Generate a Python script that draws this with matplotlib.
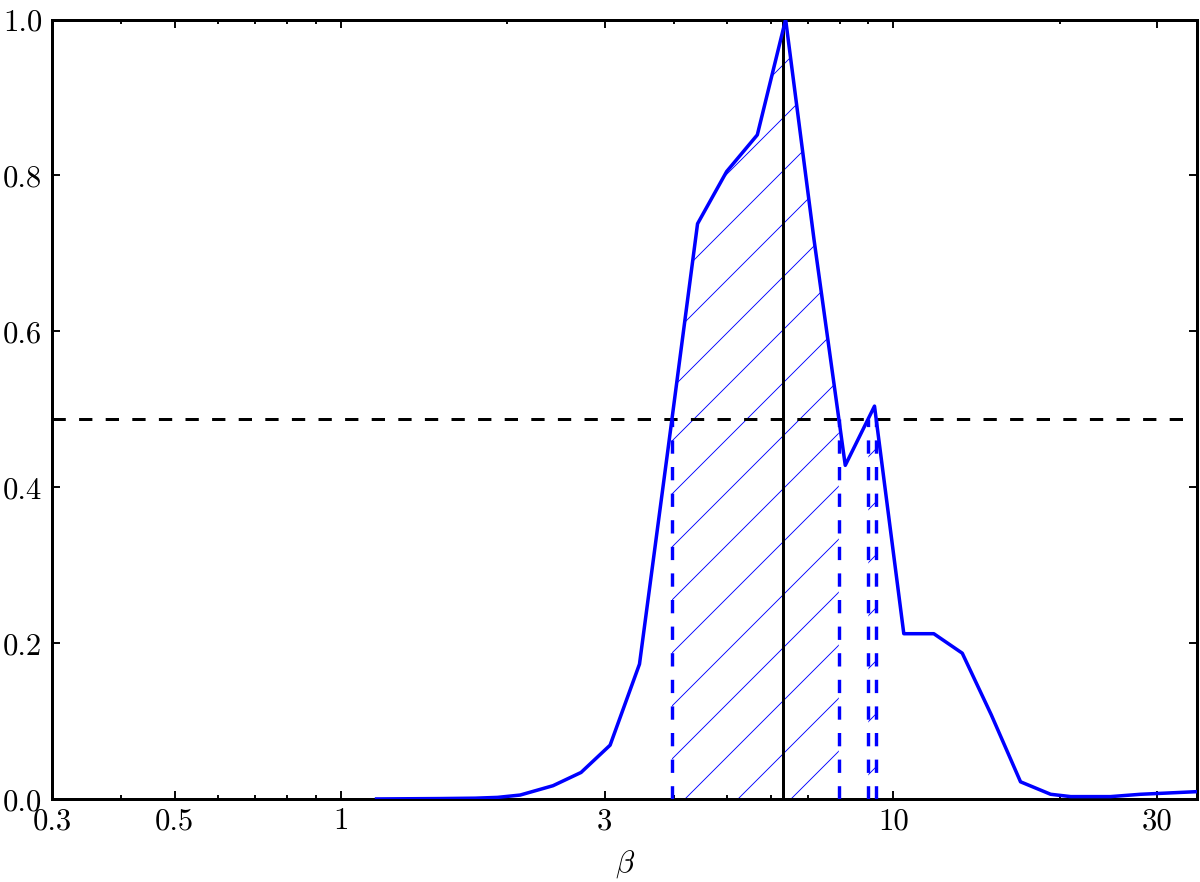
import numpy as np
import matplotlib
matplotlib.use("Agg")
import matplotlib.pyplot as plt
from matplotlib.ticker import LogLocator, NullFormatter

# ---------------- data ----------------
beta = [1.16, 1.51, 1.75, 1.92, 2.11, 2.42, 2.72, 3.07, 3.47, 3.91, 4.42, 4.99,
        5.67, 6.38, 7.18, 8.18, 9.24, 10.44, 11.83, 13.32, 15.03, 16.98, 19.25,
        20.93, 24.7, 28.0, 35.5]
prob = [0.000, 0.0005, 0.001, 0.002, 0.005, 0.017, 0.034, 0.069, 0.173, 0.45,
        0.738, 0.805, 0.852, 1.000, 0.718, 0.428, 0.504, 0.212, 0.212, 0.187,
        0.108, 0.022, 0.006, 0.003, 0.003, 0.006, 0.0094]
threshold = 0.488
beta_best = 6.31
xtick_values = [0.3, 0.5, 1, 3, 10, 30]
xtick_labels = ['0.3', '0.5', '1', '3', '10', '30']
ytick_values = [0.0, 0.2, 0.4, 0.6, 0.8, 1.0]
ytick_labels = ['0.0', '0.2', '0.4', '0.6', '0.8', '1.0']
xlim = (0.3, 35.5)
ylim = (0.0, 1.0)

# ---------------- style ----------------
DPI = 318


def px(v):
    """convert a size in output pixels to points"""
    return v * 72.0 / DPI


plt.rcParams.update({
    'font.family': 'serif',
    'font.serif': ['cmr10'],
    'mathtext.fontset': 'cm',
    'axes.formatter.use_mathtext': True,
    'font.size': px(30.8),
    'xtick.direction': 'in',
    'ytick.direction': 'in',
    'xtick.top': True,
    'ytick.right': True,
    'xtick.major.size': px(8),
    'xtick.minor.size': px(4),
    'ytick.major.size': px(8),
    'ytick.minor.size': px(4),
    'xtick.major.width': px(1.9),
    'xtick.minor.width': px(1.9),
    'ytick.major.width': px(1.9),
    'xtick.major.pad': px(8.3),
    'ytick.major.pad': px(9.6),
    'axes.linewidth': px(3.0),
    'hatch.linewidth': px(0.9),
    'lines.scale_dashes': False,
})

fig = plt.figure(figsize=(1200.5 / DPI, 882.5 / DPI), dpi=DPI)
ax = fig.add_axes([52 / 1200, 1 - 799 / 882, (1197 - 52) / 1200, (799 - 20) / 882])
ax.set_xscale('log')

b = np.asarray(beta, dtype=float)
p = np.asarray(prob, dtype=float)
lb = np.log10(b)

# crossing points of the curve with the threshold (interpolated in log space)
cross = []
for i in range(len(p) - 1):
    y0, y1 = p[i] - threshold, p[i + 1] - threshold
    if y0 * y1 < 0:
        t = -y0 / (y1 - y0)
        cross.append(10 ** (lb[i] + t * (lb[i + 1] - lb[i])))
cross = np.array(cross)

# dense arrays including crossings for the hatched fill
lx = np.sort(np.concatenate([lb, np.log10(cross)]))
py = np.interp(lx, lb, p)
xf = 10 ** lx
mask = py >= threshold - 1e-9

dash = (0, (px(13.3), px(13.3)))
ax.axhline(threshold, color='black', lw=px(3.0), ls=dash, zorder=2)
ax.axvline(beta_best, color='black', lw=px(3.0), zorder=2)
ax.fill_between(xf, 0, py, where=mask, facecolor='none', edgecolor='blue',
                linewidth=0, hatch='//', zorder=1)
ax.plot(b, p, color='blue', lw=px(3.5), zorder=3)
ax.vlines(cross, 0, threshold, colors='blue', lw=px(3.4), linestyles=[dash], zorder=3)

ax.set_xlim(*xlim)
ax.set_ylim(*ylim)
ax.set_xticks(xtick_values, xtick_labels)
ax.xaxis.set_minor_locator(LogLocator(base=10, subs=np.arange(1, 10), numticks=50))
ax.xaxis.set_minor_formatter(NullFormatter())
ax.set_yticks(ytick_values, ytick_labels)
ax.set_xlabel(r'$\beta$', labelpad=px(12.5))

fig.savefig('out.png', dpi=DPI)
